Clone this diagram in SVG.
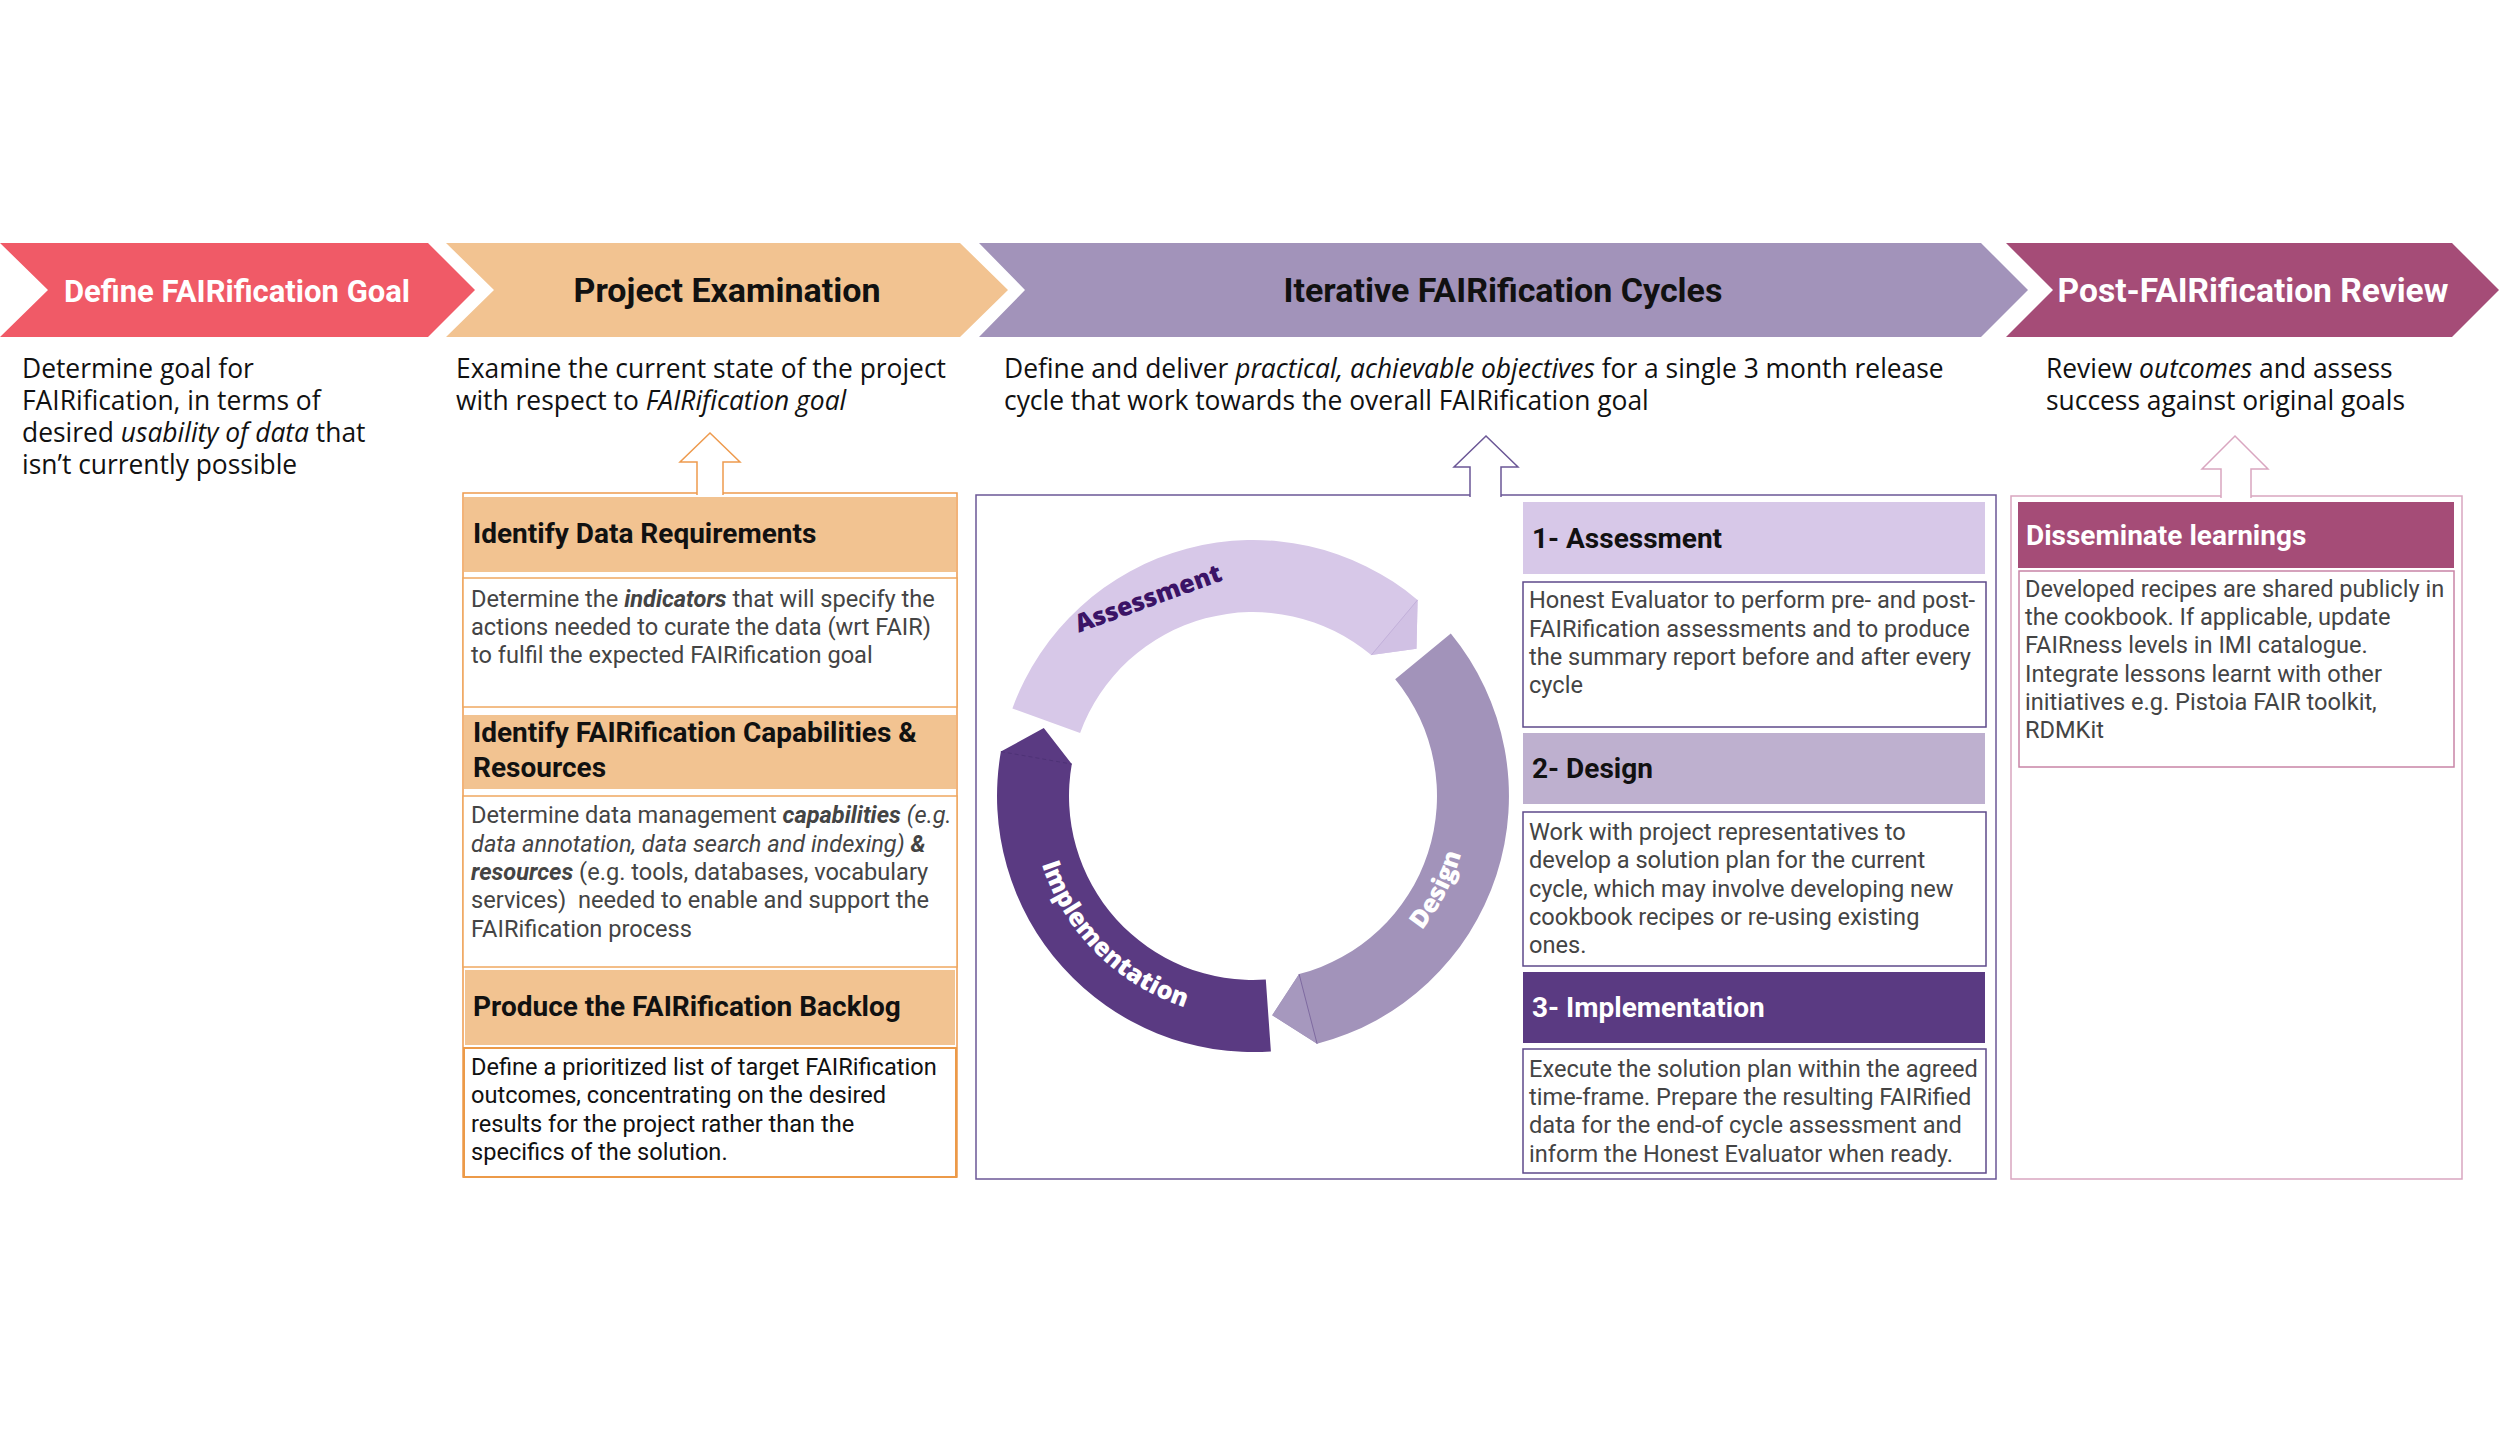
<svg xmlns="http://www.w3.org/2000/svg" width="2500" height="1449" viewBox="0 0 2500 1449">
<style>
.title{font-family:Roboto,"Liberation Sans",sans-serif;font-weight:700;font-size:34px;text-anchor:middle}
.sub{font-family:"Open Sans","Liberation Sans",sans-serif;font-size:26.4px;fill:#111}
.hd{font-family:Roboto,"Liberation Sans",sans-serif;font-weight:700;font-size:28px;fill:#111}
.body{font-family:Roboto,"Liberation Sans",sans-serif;font-size:23.6px;fill:#444}
.dark{fill:#111}
.ring{font-family:"Open Sans","Liberation Sans",sans-serif;font-weight:800;font-size:25px}
.i{font-style:italic}
.bi{font-style:italic;font-weight:700}
.ohd{fill:#F2C391}
.obox{fill:#fff;stroke:#EFA860;stroke-width:1.5}
.pbox{fill:#fff;stroke:#5E4A8A;stroke-width:1.5}
.mbox{fill:#fff;stroke:#C884A6;stroke-width:1.5}
</style>
<defs>
<path id="pDesign" d="M1354.3,986.7 A216,216 0 0 0 1466.9,765.9"/>
<path id="pImpl" d="M1031,796 A222,222 0 0 0 1253,1018"/>
</defs>
<rect width="2500" height="1449" fill="#fff"/>

<g id="phase-define">
<polygon points="0,243 428,243 475,290 428,337 0,337 48,290" fill="#F05A67"/>
<text class="title" x="237" y="302" fill="#fff" style="font-size:31px">Define FAIRification Goal</text>
<text class="sub"><tspan x="22" y="378">Determine goal for</tspan><tspan x="22" y="410">FAIRification, in terms of</tspan><tspan x="22" y="442">desired <tspan class="i">usability of data</tspan> that</tspan><tspan x="22" y="474">isn’t currently possible</tspan></text>
</g>

<g id="phase-examination">
<polygon points="446,243 960,243 1008,290 960,337 446,337 494,290" fill="#F2C391"/>
<text class="title" x="727" y="302" fill="#111">Project Examination</text>
<text class="sub"><tspan x="456" y="378">Examine the current state of the project</tspan><tspan x="456" y="410">with respect to <tspan class="i">FAIRification goal</tspan></tspan></text>
</g>

<g id="phase-cycles">
<polygon points="979,243 1981,243 2028,290 1981,337 979,337 1025,290" fill="#A293BA"/>
<text class="title" x="1503" y="302" fill="#111">Iterative FAIRification Cycles</text>
<text class="sub"><tspan x="1004" y="378">Define and deliver <tspan class="i">practical, achievable objectives</tspan> for a single 3 month release</tspan><tspan x="1004" y="410">cycle that work towards the overall FAIRification goal</tspan></text>
</g>

<g id="phase-review">
<polygon points="2006,243 2452,243 2499,290 2452,337 2006,337 2053,290" fill="#A54C77"/>
<text class="title" x="2253" y="302" fill="#fff" style="font-size:33.6px">Post-FAIRification Review</text>
<text class="sub"><tspan x="2046" y="378">Review <tspan class="i">outcomes</tspan> and assess</tspan><tspan x="2046" y="410">success against original goals</tspan></text>
</g>

<g id="examination-panel">
<rect x="463" y="493" width="494" height="684" fill="#fff" stroke="#EE9A4D" stroke-width="1.5"/>
<g id="identify-data">
<rect class="ohd" x="464" y="497" width="492" height="75"/>
<text class="hd" x="473" y="543">Identify Data Requirements</text>
<rect class="obox" x="463" y="578" width="494" height="129"/>
<text class="body"><tspan x="471" y="607">Determine the <tspan class="bi">indicators</tspan> that will specify the</tspan><tspan x="471" y="635">actions needed to curate the data (wrt FAIR)</tspan><tspan x="471" y="663">to fulfil the expected FAIRification goal</tspan></text>
</g>
<g id="identify-capabilities">
<rect class="ohd" x="464" y="715" width="492" height="74"/>
<text class="hd"><tspan x="473" y="742">Identify FAIRification Capabilities &amp;</tspan><tspan x="473" y="777">Resources</tspan></text>
<rect class="obox" x="463" y="796" width="494" height="171"/>
<text class="body"><tspan x="471" y="823">Determine data management <tspan class="bi">capabilities</tspan> <tspan class="i">(e.g.</tspan></tspan><tspan x="471" y="852"><tspan class="i">data annotation, data search and indexing)</tspan> <tspan class="bi">&amp;</tspan></tspan><tspan x="471" y="880"><tspan class="bi">resources</tspan> (e.g. tools, databases, vocabulary</tspan><tspan x="471" y="908">services)&#160; needed to enable and support the</tspan><tspan x="471" y="937">FAIRification process</tspan></text>
</g>
<g id="produce-backlog">
<rect class="ohd" x="465" y="970" width="490" height="75"/>
<text class="hd" x="473" y="1016">Produce the FAIRification Backlog</text>
<rect x="464" y="1048" width="492" height="129" fill="#fff" stroke="#EC9A48" stroke-width="2"/>
<text class="body dark"><tspan x="471" y="1075">Define a prioritized list of target FAIRification</tspan><tspan x="471" y="1103">outcomes, concentrating on the desired</tspan><tspan x="471" y="1132">results for the project rather than the</tspan><tspan x="471" y="1160">specifics of the solution.</tspan></text>
</g>
</g>

<g id="cycles-panel">
<rect x="976" y="495" width="1020" height="684" fill="#fff" stroke="#6B5796" stroke-width="1.5"/>
<g id="cycle-assessment">
<path d="M1012.4,708.4 A256,256 0 0 1 1417.6,599.9 L1416.5,648.8 L1371.3,655.1 A184,184 0 0 0 1080.1,733.1 Z" fill="#D7C8E8"/>
<path d="M1417.6,599.9 L1416.5,648.8 L1371.3,655.1 Z" fill="#D1C1E4"/>
<line x1="1417.6" y1="599.9" x2="1371.3" y2="655.1" stroke="#C2B0DA" stroke-width="1"/>
<text class="ring" fill="#3B1366" text-anchor="middle" transform="translate(1148,598) rotate(-20)" x="0" y="9">Assessment</text>
</g>
<g id="cycle-design">
<path d="M1450.8,633.5 A256,256 0 0 1 1317.1,1043.8 L1272.2,1015.2 L1299.1,974.1 A184,184 0 0 0 1395.2,679.2 Z" fill="#A293BA"/>
<path d="M1317.1,1043.8 L1272.2,1015.2 L1299.1,974.1 Z" fill="#A698BE"/>
<line x1="1317.1" y1="1043.8" x2="1299.1" y2="974.1" stroke="#7E6AA0" stroke-width="1"/>
<text class="ring" fill="#fff" text-anchor="middle"><textPath href="#pDesign" startOffset="50%">Design</textPath></text>
</g>
<g id="cycle-implementation">
<path d="M1270.9,1051.4 A256,256 0 0 1 1000.9,751.6 L1043.8,728 L1071.8,764.1 A184,184 0 0 0 1265.8,979.6 Z" fill="#5A3A82"/>
<line x1="1000.9" y1="751.6" x2="1071.8" y2="764.1" stroke="#4E3276" stroke-width="1" stroke-dasharray="4 3"/>
<text class="ring" fill="#fff" text-anchor="middle"><textPath href="#pImpl" startOffset="50%">Implementation</textPath></text>
</g>
<g id="step-assessment">
<rect x="1523" y="502" width="462" height="72" fill="#D7C8E8"/>
<text class="hd" x="1532" y="548">1- Assessment</text>
<rect class="pbox" x="1523" y="582" width="463" height="145"/>
<text class="body"><tspan x="1529" y="608">Honest Evaluator to perform pre- and post-</tspan><tspan x="1529" y="637">FAIRification assessments and to produce</tspan><tspan x="1529" y="665">the summary report before and after every</tspan><tspan x="1529" y="693">cycle</tspan></text>
</g>
<g id="step-design">
<rect x="1523" y="733" width="462" height="71" fill="#BEB0CF"/>
<text class="hd" x="1532" y="778">2- Design</text>
<rect class="pbox" x="1523" y="812" width="463" height="154"/>
<text class="body"><tspan x="1529" y="840">Work with project representatives to</tspan><tspan x="1529" y="868">develop a solution plan for the current</tspan><tspan x="1529" y="897">cycle, which may involve developing new</tspan><tspan x="1529" y="925">cookbook recipes or re-using existing</tspan><tspan x="1529" y="953">ones.</tspan></text>
</g>
<g id="step-implementation">
<rect x="1523" y="972" width="462" height="71" fill="#5A3A82"/>
<text class="hd" x="1532" y="1017" style="fill:#fff">3- Implementation</text>
<rect class="pbox" x="1523" y="1049" width="463" height="124"/>
<text class="body"><tspan x="1529" y="1077">Execute the solution plan within the agreed</tspan><tspan x="1529" y="1105">time-frame. Prepare the resulting FAIRified</tspan><tspan x="1529" y="1133">data for the end-of cycle assessment and</tspan><tspan x="1529" y="1162">inform the Honest Evaluator when ready.</tspan></text>
</g>
</g>

<g id="review-panel">
<rect x="2011" y="496" width="451" height="683" fill="#fff" stroke="#D9A6C0" stroke-width="1.5"/>
<g id="disseminate">
<rect x="2018" y="502" width="436" height="66" fill="#A54C77"/>
<text class="hd" x="2026" y="545" style="fill:#fff">Disseminate learnings</text>
<rect class="mbox" x="2019" y="571" width="435" height="196"/>
<text class="body"><tspan x="2025" y="597">Developed recipes are shared publicly in</tspan><tspan x="2025" y="625">the cookbook. If applicable, update</tspan><tspan x="2025" y="653">FAIRness levels in IMI catalogue.</tspan><tspan x="2025" y="682">Integrate lessons learnt with other</tspan><tspan x="2025" y="710">initiatives e.g. Pistoia FAIR toolkit,</tspan><tspan x="2025" y="738">RDMKit</tspan></text>
</g>
</g>

<g id="connectors" fill="#fff" stroke-width="1.5">
<polyline points="697,495 697,462 680,462 710,433 740,462 723,462 723,495" stroke="#EE9A4D"/>
<polyline points="1470,497 1470,467 1454,467 1486,436 1518,467 1501,467 1501,497" stroke="#6B5796"/>
<polyline points="2221,498 2221,469 2202,469 2235,436 2268,469 2251,469 2251,498" stroke="#D9A6C0"/>
</g>
</svg>
